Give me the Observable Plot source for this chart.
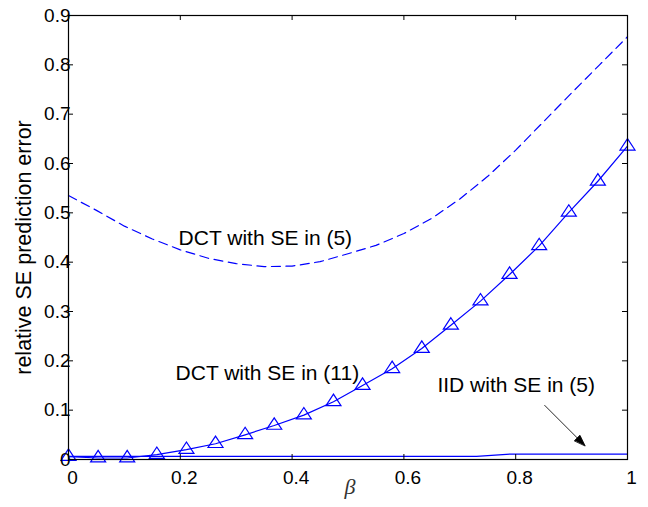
<!DOCTYPE html>
<html><head><meta charset="utf-8">
<script src="https://cdn.jsdelivr.net/npm/d3@7"></script>
<script src="https://cdn.jsdelivr.net/npm/@observablehq/plot@0.6"></script>
<style>body{margin:0;background:#fff}</style>
</head><body><div id="chart"></div>
<script>
const xTicks = [0, 0.2, 0.4, 0.6, 0.8, 1];
const xTickLabels = ["0", "0.2", "0.4", "0.6", "0.8", "1"];
const yTicks = [0, 0.1, 0.2, 0.3, 0.4, 0.5, 0.6, 0.7, 0.8, 0.9];
const yTickLabels = ["0", "0.1", "0.2", "0.3", "0.4", "0.5", "0.6", "0.7", "0.8", "0.9"];

// DCT with SE in (5) — dashed
const betaDashed = [0, 0.05, 0.1, 0.15, 0.2, 0.25, 0.3, 0.35, 0.4, 0.45, 0.5, 0.55, 0.6, 0.65, 0.7, 0.75, 0.8, 0.85, 0.9, 0.95, 1];
const dct5 = [0.535, 0.505, 0.473, 0.447, 0.425, 0.408, 0.397, 0.391, 0.392, 0.401, 0.417, 0.434, 0.458, 0.489, 0.528, 0.574, 0.627, 0.685, 0.743, 0.800, 0.857];

// DCT with SE in (11) — triangles
const betaMarkers = [0, 0.053, 0.105, 0.158, 0.211, 0.263, 0.316, 0.368, 0.421, 0.474, 0.526, 0.579, 0.632, 0.684, 0.737, 0.789, 0.842, 0.895, 0.947, 1];
const dct11 = [0.006, 0.003, 0.003, 0.010, 0.020, 0.032, 0.050, 0.069, 0.090, 0.117, 0.150, 0.184, 0.225, 0.272, 0.321, 0.375, 0.433, 0.501, 0.564, 0.635];

// IID with SE in (5)
const betaIID = [0, 0.73, 0.79, 1];
const iid = [0.0065, 0.0065, 0.011, 0.011];

// annotations
const annotText = ["DCT with SE in (5)", "DCT with SE in (11)", "IID with SE in (5)"];
const annotX = [0.197, 0.1915, 0.66];
const annotY = [0.448, 0.174, 0.150];
const arrowTipX = [0.924];
const arrowTipY = [0.028];

const blue = "#0000ff";
const dashedData = betaDashed.map((b, i) => ({b, v: dct5[i]}));
const markerData = betaMarkers.map((b, i) => ({b, v: dct11[i]}));
const iidData = betaIID.map((b, i) => ({b, v: iid[i]}));
const annotData = annotText.map((t, i) => ({t, x: annotX[i], y: annotY[i]}));
const arrowData = arrowTipX.map((x, i) => ({x, y: arrowTipY[i]}));

const matlabTriangle = {
  draw(ctx, size) {
    const r = Math.sqrt(size / Math.PI);
    const hw = 1.25 * r, h = 1.9 * r;
    ctx.moveTo(0, -2 * h / 3);
    ctx.lineTo(hw, h / 3);
    ctx.lineTo(-hw, h / 3);
    ctx.closePath();
  }
};
const filledArrow = {
  draw(ctx, l) {
    ctx.moveTo(0, 0);
    ctx.lineTo(0, -l + 8);
    ctx.moveTo(0, -l);
    ctx.lineTo(-3.8, -l + 11);
    ctx.lineTo(3.8, -l + 11);
    ctx.closePath();
  }
};

const fw = 648 - 68 - 21, fh = 507 - 15 - 48;

const chart = Plot.plot({
  width: 648, height: 507,
  marginLeft: 68, marginRight: 21, marginTop: 15, marginBottom: 48,
  x: {domain: [0, 1]},
  y: {domain: [0, 0.9]},
  style: {fontFamily: "'Liberation Sans', Arial, sans-serif", fontSize: "19px", color: "black", background: "white"},
  marks: [
    Plot.line(dashedData, {x: "b", y: "v", stroke: blue, strokeWidth: 1.2, strokeDasharray: "9,5.5"}),
    Plot.line(iidData, {x: "b", y: "v", stroke: blue, strokeWidth: 1.2}),
    Plot.line(markerData, {x: "b", y: "v", stroke: blue, strokeWidth: 1.2}),
    Plot.dot(markerData, {x: "b", y: "v", symbol: matlabTriangle, r: 6, stroke: blue, strokeWidth: 1.2, fill: "none"}),
    Plot.text(annotData, {x: "x", y: "y", text: "t", textAnchor: "start", fontSize: 21, fill: "black"}),
    Plot.vector(arrowData, {x: "x", y: "y", anchor: "end", length: 57, rotate: 135, shape: filledArrow, stroke: "black", fill: "black", strokeWidth: 0.8}),
    // inward ticks
    Plot.tickX(xTicks, {x: d => d, insetTop: fh - 5, stroke: "black"}),
    Plot.tickX(xTicks, {x: d => d, insetBottom: fh - 5, stroke: "black"}),
    Plot.tickY(yTicks, {y: d => d, insetRight: fw - 5, stroke: "black"}),
    Plot.tickY(yTicks, {y: d => d, insetLeft: fw - 5, stroke: "black"}),
    Plot.frame({stroke: "black", strokeWidth: 1.2}),
    Plot.axisX({ticks: xTicks, tickSize: 0, tickPadding: 11, dx: 4, label: null, tickFormat: (d, i) => xTickLabels[i], fontSize: 19}),
    Plot.axisY({ticks: yTicks, tickSize: 0, tickPadding: -2, label: null, tickFormat: (d, i) => yTickLabels[i], fontSize: 19}),
    Plot.text(["relative SE prediction error"], {frameAnchor: "left", textAnchor: "middle", rotate: -90, dx: -44, dy: 10, fontSize: 21.5, fill: "black"}),
    Plot.text(["β"], {frameAnchor: "bottom", dy: 34, dx: 2, fontSize: 22, fontStyle: "italic", fontFamily: "'Liberation Serif', serif", fill: "#333"})
  ]
});
document.getElementById("chart").appendChild(chart);
</script>
</body></html>
